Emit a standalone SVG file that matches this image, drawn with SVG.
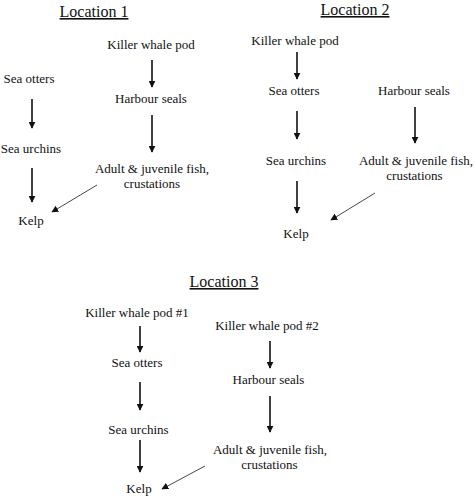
<svg xmlns="http://www.w3.org/2000/svg" width="474" height="501" viewBox="0 0 474 501">
<style>
text{font-family:"Liberation Serif","Times New Roman",serif;fill:#111;text-anchor:middle}
.lbl{font-size:13px}
.ttl{font-size:16px;text-decoration:underline}
.ar{stroke:#111;stroke-width:1.6;fill:none}
.thin{stroke:#333;stroke-width:0.9;fill:none}
</style>
<defs>
<marker id="ah" viewBox="0 0 10 10" refX="9" refY="5" markerUnits="userSpaceOnUse" markerWidth="7" markerHeight="7" orient="auto"><path d="M0,0 L10,5 L0,10 Z" fill="#111"/></marker>
<marker id="ahs" viewBox="0 0 10 10" refX="9" refY="5" markerUnits="userSpaceOnUse" markerWidth="7" markerHeight="7" orient="auto"><path d="M0,0 L10,5 L0,10 Z" fill="#111"/></marker>
</defs>
<rect width="474" height="501" fill="#fff"/>
<g id="titles">
<text class="ttl" x="94" y="17">Location 1</text>
<text class="ttl" x="355" y="15">Location 2</text>
<text class="ttl" x="224" y="287">Location 3</text>
</g>
<g id="loc1">
<g id="l1-kwp"><text class="lbl" x="151" y="49">Killer whale pod</text></g>
<g id="l1-hs"><text class="lbl" x="151" y="103">Harbour seals</text></g>
<g id="l1-fish"><text class="lbl" x="152" y="173">Adult &amp; juvenile fish,</text><text class="lbl" x="152" y="188">crustations</text></g>
<g id="l1-otters"><text class="lbl" x="29" y="83">Sea otters</text></g>
<g id="l1-urchins"><text class="lbl" x="31" y="153">Sea urchins</text></g>
<g id="l1-kelp"><text class="lbl" x="31" y="225">Kelp</text></g>
</g>
<g id="loc2">
<g id="l2-kwp"><text class="lbl" x="295" y="45">Killer whale pod</text></g>
<g id="l2-otters"><text class="lbl" x="294" y="95">Sea otters</text></g>
<g id="l2-urchins"><text class="lbl" x="296" y="165">Sea urchins</text></g>
<g id="l2-kelp"><text class="lbl" x="296" y="238">Kelp</text></g>
<g id="l2-hs"><text class="lbl" x="414" y="95">Harbour seals</text></g>
<g id="l2-fish"><text class="lbl" x="416" y="165">Adult &amp; juvenile fish,</text><text class="lbl" x="414.5" y="180">crustations</text></g>
</g>
<g id="loc3">
<g id="l3-kwp1"><text class="lbl" x="137" y="317">Killer whale pod #1</text></g>
<g id="l3-otters"><text class="lbl" x="137" y="367">Sea otters</text></g>
<g id="l3-urchins"><text class="lbl" x="138.5" y="434">Sea urchins</text></g>
<g id="l3-kelp"><text class="lbl" x="139" y="493">Kelp</text></g>
<g id="l3-kwp2"><text class="lbl" x="267" y="330">Killer whale pod #2</text></g>
<g id="l3-hs"><text class="lbl" x="268.5" y="384">Harbour seals</text></g>
<g id="l3-fish"><text class="lbl" x="270" y="454">Adult &amp; juvenile fish,</text><text class="lbl" x="269.5" y="469">crustations</text></g>
</g>
<g id="connectors">
<line class="ar" x1="152" y1="60" x2="152" y2="87" marker-end="url(#ah)"/>
<line class="ar" x1="152" y1="115" x2="152" y2="152" marker-end="url(#ah)"/>
<line class="ar" x1="32" y1="99" x2="32" y2="128" marker-end="url(#ah)"/>
<line class="ar" x1="32" y1="168" x2="32" y2="202" marker-end="url(#ah)"/>
<line class="thin" x1="97" y1="185" x2="52" y2="212" marker-end="url(#ahs)"/>
<line class="ar" x1="297" y1="52" x2="297" y2="79" marker-end="url(#ah)"/>
<line class="ar" x1="297" y1="111" x2="297" y2="139" marker-end="url(#ah)"/>
<line class="ar" x1="297" y1="181" x2="297" y2="213" marker-end="url(#ah)"/>
<line class="ar" x1="415" y1="107" x2="415" y2="143" marker-end="url(#ah)"/>
<line class="thin" x1="375" y1="193" x2="331" y2="220" marker-end="url(#ahs)"/>
<line class="ar" x1="140" y1="326" x2="140" y2="352" marker-end="url(#ah)"/>
<line class="ar" x1="140" y1="382" x2="140" y2="410" marker-end="url(#ah)"/>
<line class="ar" x1="140" y1="440" x2="140" y2="472" marker-end="url(#ah)"/>
<line class="ar" x1="270" y1="341" x2="270" y2="368" marker-end="url(#ah)"/>
<line class="ar" x1="270" y1="396" x2="270" y2="432" marker-end="url(#ah)"/>
<line class="thin" x1="205" y1="466" x2="162" y2="489" marker-end="url(#ahs)"/>
</g>
</svg>
